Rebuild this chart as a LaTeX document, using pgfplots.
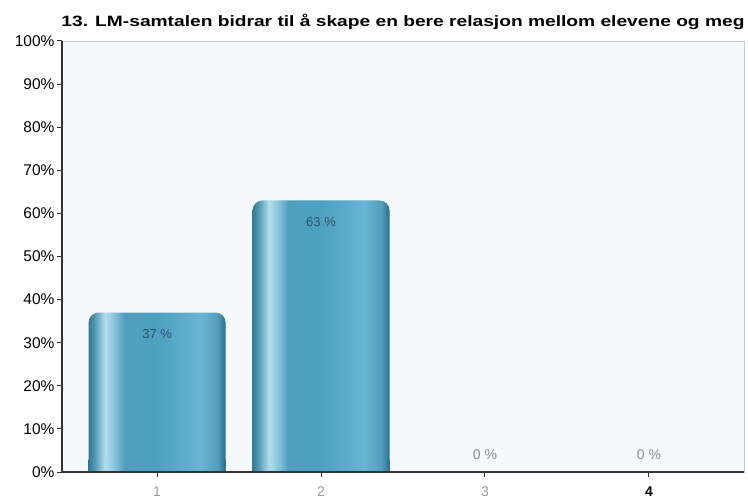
\documentclass[border=0pt]{standalone}
\usepackage{pgfplots}
\pgfplotsset{compat=1.18}
\usepackage{pgfplotstable}
\usepackage{fontspec}
\setmainfont{Liberation Sans}

\definecolor{plotbg}{HTML}{F5F9FB}
\definecolor{frame}{HTML}{C8CCCE}
\definecolor{axisdark}{HTML}{333333}
\definecolor{barlabel}{HTML}{2F5466}
\definecolor{zerolabel}{HTML}{8C8C8C}
\definecolor{ticklab}{HTML}{9A9A9A}

% left-to-right shading of a cylinder-like bar
\pgfdeclarehorizontalshading{barshade}{100bp}{%
  color(0bp)=(rgb,255:red,52;green,122;blue,148);
  color(25bp)=(rgb,255:red,52;green,122;blue,148);
  color(27bp)=(rgb,255:red,80;green,150;blue,175);
  color(31bp)=(rgb,255:red,178;green,222;blue,236);
  color(34bp)=(rgb,255:red,140;green,200;blue,222);
  color(38bp)=(rgb,255:red,80;green,158;blue,190);
  color(50bp)=(rgb,255:red,78;green,160;blue,193);
  color(66bp)=(rgb,255:red,104;green,180;blue,211);
  color(72bp)=(rgb,255:red,84;green,158;blue,188);
  color(75bp)=(rgb,255:red,42;green,110;blue,136);
  color(100bp)=(rgb,255:red,42;green,110;blue,136)}

\pgfplotstableread{
x v
1 37
2 63
3 0
4 0
}\answers

\begin{document}
\begin{tikzpicture}
\path[use as bounding box] (0,0) rectangle (748bp,500bp);
\begin{axis}[
  at={(62bp,28bp)}, anchor=south west,
  scale only axis, width=682bp, height=431bp,
  xmin=0.42, xmax=4.58, ymin=0, ymax=100,
  axis background/.style={fill=plotbg},
  axis line style={frame, line width=0.8pt},
  xtick={1,2,3,4},
  xticklabels={{\color{ticklab}1},{\color{ticklab}2},{\color{ticklab}3},{\color{black}\bfseries 4}},
  ytick={0,10,...,100},
  yticklabel={\pgfmathprintnumber{\tick}\%},
  xtick pos=bottom, ytick pos=left,
  tick align=outside, major tick length=5bp,
  tick style={axisdark, line width=1pt},
  x tick label style={font=\fontsize{14bp}{14bp}\selectfont, yshift=-6bp},
  y tick label style={font=\fontsize{15.5bp}{15.5bp}\selectfont, text=black, xshift=1bp},
  /pgf/number format/assume math mode=true,
  clip=false,
  bar width=137bp,
]
% one plot per category, so every bar gets its own shading
\pgfplotsinvokeforeach{1,2}{
  % bar with rounded top
  \addplot[ybar, bar shift=0pt, draw=none, shading=barshade, rounded corners=10bp,
    restrict x to domain=#1:#1,
    nodes near coords={\pgfmathprintnumber{\pgfplotspointmeta}~\%},
    point meta=explicit,
    every node near coord/.append style={anchor=north, yshift=-13bp, text=barlabel,
      font=\fontsize{13bp}{13bp}\selectfont}]
    table[x=x, y=v, meta=v] {\answers};
  % square foot of the same bar
  \addplot[ybar, bar shift=0pt, draw=none, shading=barshade,
    restrict x to domain=#1:#1]
    table[x=x, y expr={min(\thisrow{v},3)}] {\answers};
}
% labels for empty categories
\addplot[draw=none, mark=none, restrict y to domain=-1:0.5,
  nodes near coords={\pgfmathprintnumber{\pgfplotspointmeta}~\%},
  point meta=explicit,
  every node near coord/.append style={anchor=south, yshift=9bp, text=zerolabel,
    font=\fontsize{14bp}{14bp}\selectfont}]
  table[x=x, y=v, meta=v] {\answers};
% darker left and bottom axis lines
\draw[axisdark, line width=1.3pt] (rel axis cs:0,1) -- (rel axis cs:0,0) -- (rel axis cs:1,0);
\node[anchor=base, font=\fontsize{15bp}{15bp}\selectfont\bfseries]
  at (rel axis cs:0.5,1) [yshift=14bp]
  {\resizebox{683bp}{\height}{13. LM-samtalen bidrar til å skape en bere relasjon mellom elevene og meg}};
\end{axis}
\end{tikzpicture}
\end{document}
